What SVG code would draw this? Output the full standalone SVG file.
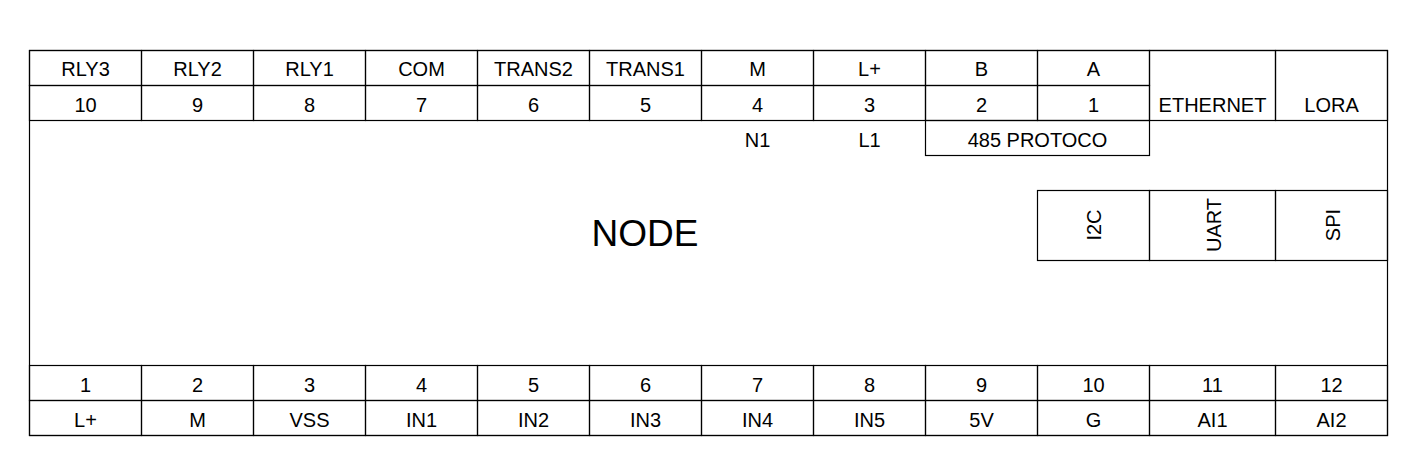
<svg xmlns="http://www.w3.org/2000/svg" width="1423" height="466" viewBox="0 0 1423 466">
<style>
.c{fill:none;stroke:#000;stroke-width:1.2}
.t{font-family:"Liberation Sans",Arial,sans-serif;font-size:20px;fill:#000;text-anchor:middle}
.big{font-family:"Liberation Sans",Arial,sans-serif;font-size:37px;fill:#000;text-anchor:middle}
</style>
<rect width="1423" height="466" fill="#fff"/>
<g id="node-body">
<rect class="c" x="29.5" y="50.5" width="1358" height="385"/>
<text class="big" x="645" y="246">NODE</text>
</g>
<g id="top-pins">
<rect class="c" x="29.5" y="50.5" width="112" height="35"/><rect class="c" x="29.5" y="85.5" width="112" height="35"/>
<rect class="c" x="141.5" y="50.5" width="112" height="35"/><rect class="c" x="141.5" y="85.5" width="112" height="35"/>
<rect class="c" x="253.5" y="50.5" width="112" height="35"/><rect class="c" x="253.5" y="85.5" width="112" height="35"/>
<rect class="c" x="365.5" y="50.5" width="112" height="35"/><rect class="c" x="365.5" y="85.5" width="112" height="35"/>
<rect class="c" x="477.5" y="50.5" width="112" height="35"/><rect class="c" x="477.5" y="85.5" width="112" height="35"/>
<rect class="c" x="589.5" y="50.5" width="112" height="35"/><rect class="c" x="589.5" y="85.5" width="112" height="35"/>
<rect class="c" x="701.5" y="50.5" width="112" height="35"/><rect class="c" x="701.5" y="85.5" width="112" height="35"/>
<rect class="c" x="813.5" y="50.5" width="112" height="35"/><rect class="c" x="813.5" y="85.5" width="112" height="35"/>
<rect class="c" x="925.5" y="50.5" width="112" height="35"/><rect class="c" x="925.5" y="85.5" width="112" height="35"/>
<rect class="c" x="1037.5" y="50.5" width="112" height="35"/><rect class="c" x="1037.5" y="85.5" width="112" height="35"/>
<text class="t" x="85.5" y="76">RLY3</text><text class="t" x="85.5" y="111.5">10</text>
<text class="t" x="197.5" y="76">RLY2</text><text class="t" x="197.5" y="111.5">9</text>
<text class="t" x="309.5" y="76">RLY1</text><text class="t" x="309.5" y="111.5">8</text>
<text class="t" x="421.5" y="76">COM</text><text class="t" x="421.5" y="111.5">7</text>
<text class="t" x="533.5" y="76">TRANS2</text><text class="t" x="533.5" y="111.5">6</text>
<text class="t" x="645.5" y="76">TRANS1</text><text class="t" x="645.5" y="111.5">5</text>
<text class="t" x="757.5" y="76">M</text><text class="t" x="757.5" y="111.5">4</text>
<text class="t" x="869.5" y="76">L+</text><text class="t" x="869.5" y="111.5">3</text>
<text class="t" x="981.5" y="76">B</text><text class="t" x="981.5" y="111.5">2</text>
<text class="t" x="1093.5" y="76">A</text><text class="t" x="1093.5" y="111.5">1</text>
<text class="t" x="757.5" y="146.5">N1</text>
<text class="t" x="869.5" y="146.5">L1</text>
</g>
<g id="rs485">
<rect class="c" x="925.5" y="120.5" width="224" height="35"/>
<text class="t" x="1037.5" y="146.5">485 PROTOCO</text>
</g>
<g id="ethernet">
<rect class="c" x="1149.5" y="50.5" width="126" height="70"/>
<text class="t" x="1212.5" y="112">ETHERNET</text>
</g>
<g id="lora">
<rect class="c" x="1275.5" y="50.5" width="112" height="70"/>
<text class="t" x="1331.5" y="112">LORA</text>
</g>
<g id="i2c">
<rect class="c" x="1037.5" y="190.5" width="112" height="70"/>
<text class="t" transform="translate(1101,225) rotate(-90)">I2C</text>
</g>
<g id="uart">
<rect class="c" x="1149.5" y="190.5" width="126" height="70"/>
<text class="t" transform="translate(1221,225) rotate(-90)">UART</text>
</g>
<g id="spi">
<rect class="c" x="1275.5" y="190.5" width="112" height="70"/>
<text class="t" transform="translate(1340,225) rotate(-90)">SPI</text>
</g>
<g id="bottom-pins">
<rect class="c" x="29.5" y="365.5" width="112" height="35"/><rect class="c" x="29.5" y="400.5" width="112" height="35"/>
<rect class="c" x="141.5" y="365.5" width="112" height="35"/><rect class="c" x="141.5" y="400.5" width="112" height="35"/>
<rect class="c" x="253.5" y="365.5" width="112" height="35"/><rect class="c" x="253.5" y="400.5" width="112" height="35"/>
<rect class="c" x="365.5" y="365.5" width="112" height="35"/><rect class="c" x="365.5" y="400.5" width="112" height="35"/>
<rect class="c" x="477.5" y="365.5" width="112" height="35"/><rect class="c" x="477.5" y="400.5" width="112" height="35"/>
<rect class="c" x="589.5" y="365.5" width="112" height="35"/><rect class="c" x="589.5" y="400.5" width="112" height="35"/>
<rect class="c" x="701.5" y="365.5" width="112" height="35"/><rect class="c" x="701.5" y="400.5" width="112" height="35"/>
<rect class="c" x="813.5" y="365.5" width="112" height="35"/><rect class="c" x="813.5" y="400.5" width="112" height="35"/>
<rect class="c" x="925.5" y="365.5" width="112" height="35"/><rect class="c" x="925.5" y="400.5" width="112" height="35"/>
<rect class="c" x="1037.5" y="365.5" width="112" height="35"/><rect class="c" x="1037.5" y="400.5" width="112" height="35"/>
<rect class="c" x="1149.5" y="365.5" width="126" height="35"/><rect class="c" x="1149.5" y="400.5" width="126" height="35"/>
<rect class="c" x="1275.5" y="365.5" width="112" height="35"/><rect class="c" x="1275.5" y="400.5" width="112" height="35"/>
<text class="t" x="85.5" y="391.5">1</text><text class="t" x="85.5" y="427">L+</text>
<text class="t" x="197.5" y="391.5">2</text><text class="t" x="197.5" y="427">M</text>
<text class="t" x="309.5" y="391.5">3</text><text class="t" x="309.5" y="427">VSS</text>
<text class="t" x="421.5" y="391.5">4</text><text class="t" x="421.5" y="427">IN1</text>
<text class="t" x="533.5" y="391.5">5</text><text class="t" x="533.5" y="427">IN2</text>
<text class="t" x="645.5" y="391.5">6</text><text class="t" x="645.5" y="427">IN3</text>
<text class="t" x="757.5" y="391.5">7</text><text class="t" x="757.5" y="427">IN4</text>
<text class="t" x="869.5" y="391.5">8</text><text class="t" x="869.5" y="427">IN5</text>
<text class="t" x="981.5" y="391.5">9</text><text class="t" x="981.5" y="427">5V</text>
<text class="t" x="1093.5" y="391.5">10</text><text class="t" x="1093.5" y="427">G</text>
<text class="t" x="1212.5" y="391.5">11</text><text class="t" x="1212.5" y="427">AI1</text>
<text class="t" x="1331.5" y="391.5">12</text><text class="t" x="1331.5" y="427">AI2</text>
</g>
<g id="connectors"></g>
</svg>
